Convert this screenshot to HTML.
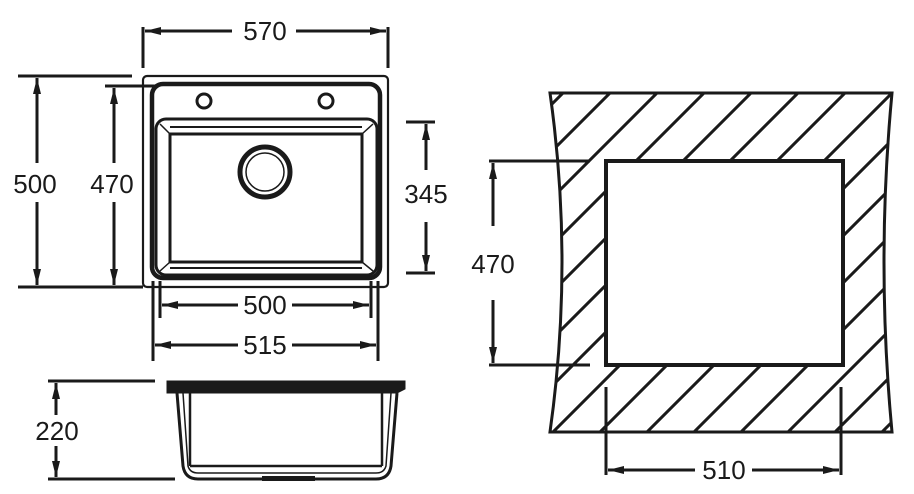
<!DOCTYPE html>
<html><head><style>html,body{margin:0;padding:0;background:#fff;}svg{display:block}</style></head>
<body>
<svg width="914" height="494" viewBox="0 0 914 494" xmlns="http://www.w3.org/2000/svg">
<defs>
<marker id="a" viewBox="0 0 16 8" refX="16" refY="4" markerWidth="16" markerHeight="8" markerUnits="userSpaceOnUse" orient="auto-start-reverse">
<path d="M0,0 L16,4 L0,8 Z" fill="#1a1a1a"/>
</marker>
<clipPath id="shp"><path d="M550,93 L892,93 Q876,262 892,432 L550,432 Q574,262 550,93 Z"/></clipPath>
</defs>
<g fill="none" stroke="#1a1a1a" stroke-width="3">
<!-- 570 -->
<line x1="143" y1="27" x2="143" y2="68"/><line x1="388" y1="27" x2="388" y2="68"/>
<line x1="145" y1="31" x2="232" y2="31" marker-start="url(#a)"/>
<line x1="296" y1="31" x2="386" y2="31" marker-end="url(#a)"/>
<!-- outer outline -->
<rect x="143" y="76" width="245" height="211" rx="4" stroke-width="2.2"/>
<rect x="152" y="84" width="228" height="194" rx="11" stroke-width="4.5"/>
<circle cx="204" cy="101" r="7" stroke-width="3"/>
<circle cx="326" cy="101" r="7" stroke-width="3"/>
<rect x="156" y="119" width="221" height="156" rx="10" stroke-width="3"/>
<line x1="170" y1="127" x2="362" y2="127" stroke-width="2"/>
<line x1="170" y1="268" x2="362" y2="268" stroke-width="2"/>
<rect x="170" y="134" width="192" height="128" stroke-width="3"/>
<line x1="160" y1="124" x2="170" y2="134" stroke-width="1.5"/><line x1="373" y1="124" x2="362" y2="134" stroke-width="1.5"/>
<line x1="160" y1="271" x2="170" y2="262" stroke-width="1.5"/><line x1="373" y1="271" x2="362" y2="262" stroke-width="1.5"/>
<circle cx="265" cy="172" r="25" stroke-width="5"/>
<circle cx="265" cy="172" r="19" stroke-width="1.5"/>
<!-- 500 left -->
<line x1="18" y1="76" x2="132" y2="76"/><line x1="18" y1="287" x2="143" y2="287"/>
<line x1="37" y1="78" x2="37" y2="163" marker-start="url(#a)"/>
<line x1="37" y1="202" x2="37" y2="285" marker-end="url(#a)"/>
<!-- 470 left -->
<line x1="105" y1="86" x2="155" y2="86"/>
<line x1="114" y1="88" x2="114" y2="163" marker-start="url(#a)"/>
<line x1="114" y1="202" x2="114" y2="285" marker-end="url(#a)"/>
<!-- 345 -->
<line x1="406" y1="122" x2="435" y2="122"/><line x1="406" y1="273" x2="435" y2="273"/>
<line x1="426" y1="124" x2="426" y2="170" marker-start="url(#a)"/>
<line x1="426" y1="222" x2="426" y2="271" marker-end="url(#a)"/>
<!-- 500 bottom -->
<line x1="160" y1="281" x2="160" y2="318"/><line x1="371" y1="281" x2="371" y2="318"/>
<line x1="153" y1="281" x2="153" y2="361"/><line x1="378" y1="281" x2="378" y2="361"/>
<line x1="162" y1="305" x2="238" y2="305" marker-start="url(#a)"/>
<line x1="292" y1="305" x2="369" y2="305" marker-end="url(#a)"/>
<line x1="155" y1="345" x2="238" y2="345" marker-start="url(#a)"/>
<line x1="292" y1="345" x2="376" y2="345" marker-end="url(#a)"/>
<!-- side view -->
<path d="M167,381 L405,381 L405,389 L397,393 L167,393 Z" fill="#1a1a1a" stroke-width="1"/>
<path d="M177,393 L183,466 Q185,479 198,479 L376,479 Q389,479 391,466 L397,393" stroke-width="3"/>
<path d="M183,393 L188,466 Q190,473 198,473 L376,473 Q384,473 386,466 L391,393" stroke-width="1.5"/>
<line x1="190" y1="393" x2="190" y2="466" stroke-width="2.5"/>
<line x1="382" y1="393" x2="382" y2="466" stroke-width="2.5"/>
<line x1="190" y1="466" x2="382" y2="466" stroke-width="2.5"/>
<rect x="262" y="476" width="53" height="5" fill="#1a1a1a" stroke="none"/>
<!-- 220 -->
<line x1="48" y1="381" x2="155" y2="381"/><line x1="48" y1="479" x2="175" y2="479"/>
<line x1="56" y1="383" x2="56" y2="415" marker-start="url(#a)"/>
<line x1="56" y1="446" x2="56" y2="477" marker-end="url(#a)"/>
<!-- hatched cutout -->
<g clip-path="url(#shp)" stroke-width="3">
<path d="M656,0 L156,500 M703,0 L203,500 M750,0 L250,500 M797,0 L297,500 M844,0 L344,500 M891,0 L391,500 M938,0 L438,500 M985,0 L485,500 M1032,0 L532,500 M1079,0 L579,500 M1126,0 L626,500 M1173,0 L673,500 M1220,0 L720,500 M1267,0 L767,500 M1314,0 L814,500 M1361,0 L861,500 M1408,0 L908,500"/>
</g>
<path d="M550,93 L892,93 Q876,262 892,432 L550,432 Q574,262 550,93 Z" stroke-width="3"/>
<rect x="606" y="161" width="237" height="204" fill="#fff" stroke-width="4"/>
<!-- 470 right -->
<line x1="489" y1="161" x2="590" y2="161"/><line x1="489" y1="365" x2="590" y2="365"/>
<line x1="493" y1="163" x2="493" y2="226" marker-start="url(#a)"/>
<line x1="493" y1="300" x2="493" y2="363" marker-end="url(#a)"/>
<!-- 510 -->
<line x1="606" y1="387" x2="606" y2="475"/><line x1="841" y1="387" x2="841" y2="475"/>
<line x1="608" y1="470" x2="695" y2="470" marker-start="url(#a)"/>
<line x1="752" y1="470" x2="839" y2="470" marker-end="url(#a)"/>
</g>
<g font-family="Liberation Sans, sans-serif" font-size="26" fill="#1a1a1a" text-anchor="middle">
<text x="265" y="40">570</text>
<text x="35" y="193">500</text>
<text x="112" y="193">470</text>
<text x="426" y="203">345</text>
<text x="265" y="314">500</text>
<text x="265" y="354">515</text>
<text x="57" y="440">220</text>
<text x="493" y="273">470</text>
<text x="724" y="479">510</text>
</g>
</svg>
</body></html>
